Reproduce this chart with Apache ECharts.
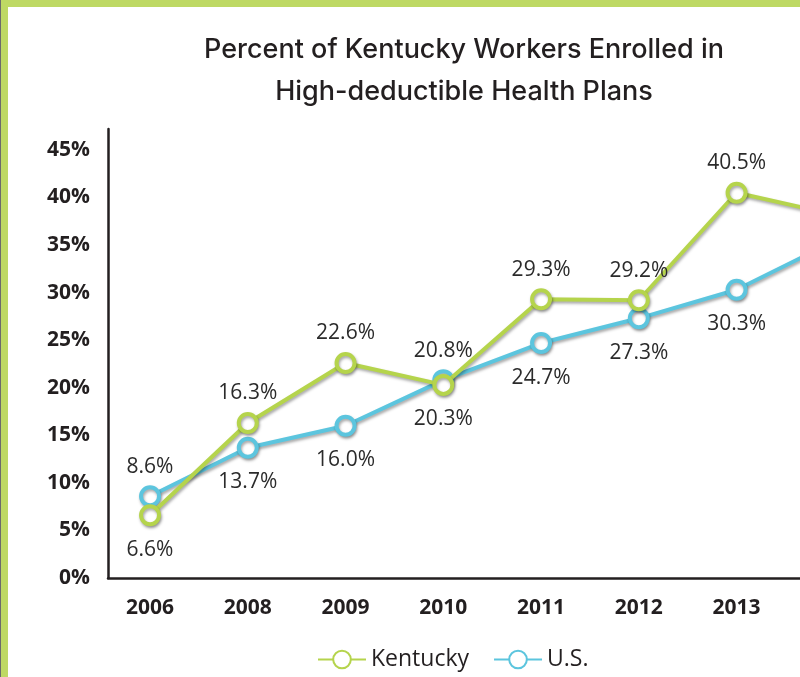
<!DOCTYPE html>
<html>
<head>
<meta charset="utf-8">
<script src="https://cdn.jsdelivr.net/npm/echarts@6/dist/echarts.min.js"></script>
<style>
  html, body { margin: 0; padding: 0; background: #ffffff; overflow: hidden; width: 800px; height: 677px; }
  #frame { position: absolute; left: 0; top: 0; width: 900px; height: 677px; border-left: 1px solid #6b6b6b; box-sizing: border-box; }
  #frame-inner { position: absolute; left: 0; top: 0; right: 0; bottom: -10px; border-left: 7px solid #bed964; border-top: 7px solid #bed964; }
  #chart { position: absolute; left: 0; top: 0; width: 900px; height: 677px; }
</style>
</head>
<body>
<div id="frame"><div id="frame-inner"></div></div>
<div id="chart"></div>
<script>
const years = ['2006', '2008', '2009', '2010', '2011', '2012', '2013', '2014'];
const kentucky = [6.6, 16.3, 22.6, 20.3, 29.3, 29.2, 40.5, 38.2];
const us = [8.6, 13.7, 16.0, 20.8, 24.7, 27.3, 30.3, 35.4];
const yTicks = [0, 5, 10, 15, 20, 25, 30, 35, 40, 45];
const titleLines = ['Percent of Kentucky Workers Enrolled in', 'High-deductible Health Plans'];

const green = '#b5d44c';
const blue = '#5cc5de';
const textDark = '#231f20';

function buildData(values, abovePattern) {
  return values.map((v, i) => {
    const above = abovePattern(i);
    return {
      value: [i, v],
      label: { position: above ? 'top' : 'bottom', distance: above ? 8 : 13 }
    };
  });
}

const chart = echarts.init(document.getElementById('chart'), null, { renderer: 'canvas' });

const shadow = { shadowColor: 'rgba(0,0,0,0.35)', shadowBlur: 3, shadowOffsetX: 1, shadowOffsetY: 2 };

function makeSeries(name, values, color, abovePattern, z) {
  return {
    name: name,
    type: 'line',
    z: z,
    data: buildData(values, abovePattern),
    symbol: 'circle',
    symbolSize: 18,
    showSymbol: true,
    lineStyle: Object.assign({ color: color, width: 4 }, shadow),
    itemStyle: Object.assign({ color: '#ffffff', borderColor: color, borderWidth: 4 }, shadow),
    label: {
      show: true,
      color: '#2b2b2b',
      fontFamily: 'Open Sans',
      fontSize: 21,
      formatter: p => p.value[1].toFixed(1) + '%'
    },
    emphasis: { disabled: true },
    animation: false
  };
}

const option = {
  animation: false,
  title: {
    text: titleLines.join('\n'),
    left: 464,
    top: 29,
    padding: 0,
    textAlign: 'center',
    textStyle: {
      fontFamily: 'Inter',
      fontWeight: 500,
      fontSize: 27,
      lineHeight: 42,
      color: textDark
    }
  },
  legend: {
    data: ['Kentucky', 'U.S.'],
    left: 312,
    top: 643,
    itemWidth: 48,
    itemHeight: 22,
    itemGap: 24,
    textStyle: { fontFamily: 'Open Sans', fontSize: 23, color: textDark }
  },
  grid: { left: 108, top: 129, width: 785, height: 449, containLabel: false },
  xAxis: {
    type: 'value',
    min: -0.43,
    max: 7.6,
    splitLine: { show: false },
    axisTick: { show: false },
    axisLine: { show: true, onZero: false, lineStyle: { color: textDark, width: 2.5 } },
    axisLabel: {
      customValues: years.map((y, i) => i),
      formatter: v => years[Math.round(v)] || '',
      margin: 20,
      fontFamily: 'Open Sans',
      fontWeight: 'bold',
      fontSize: 21,
      color: textDark
    }
  },
  yAxis: {
    type: 'value',
    min: 0,
    max: 47.2,
    splitLine: { show: false },
    axisTick: { show: false },
    axisLine: { show: true, onZero: false, lineStyle: { color: textDark, width: 2.5 } },
    axisLabel: {
      customValues: yTicks,
      formatter: v => v + '%',
      margin: 18,
      fontFamily: 'Open Sans',
      fontWeight: 'bold',
      fontSize: 21,
      color: textDark
    }
  },
  series: [
    makeSeries('Kentucky', kentucky, green, i => !(i === 0 || i === 3), 4),
    makeSeries('U.S.', us, blue, i => (i === 0 || i === 3), 3)
  ]
};

chart.setOption(option);
</script>
</body>
</html>
